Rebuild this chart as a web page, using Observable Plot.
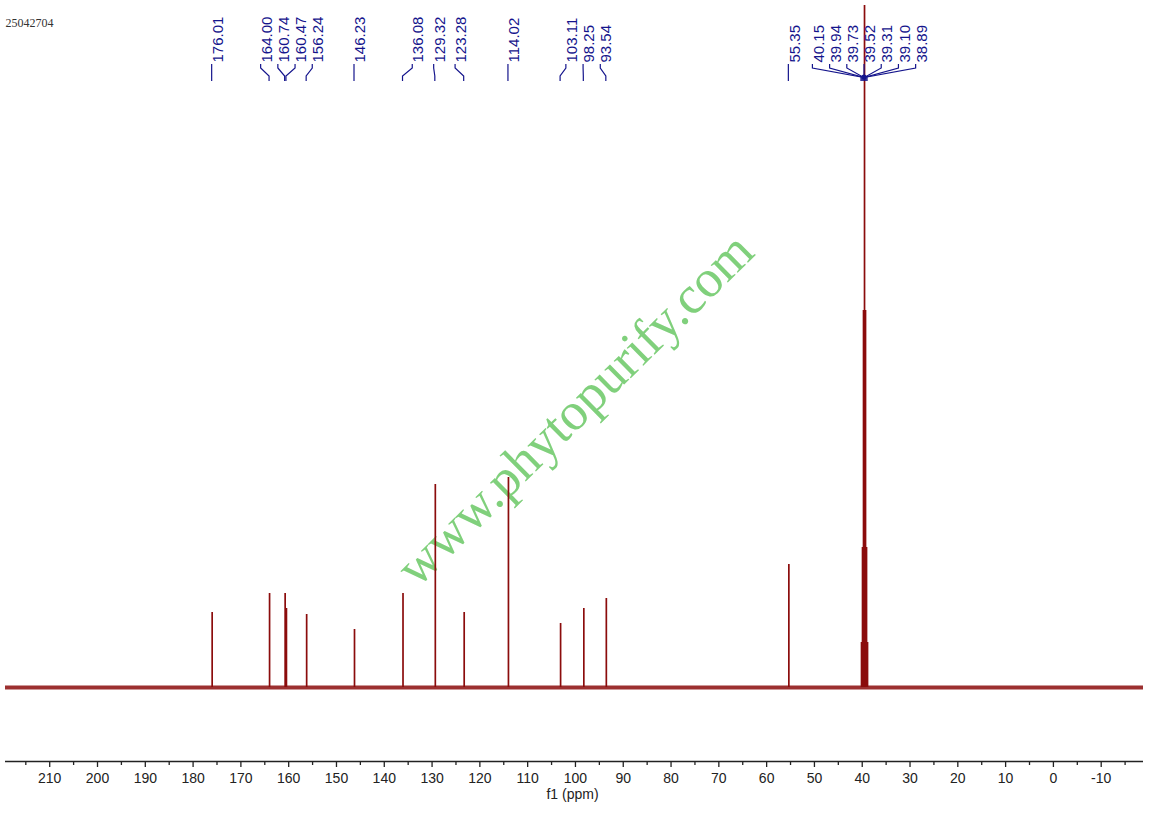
<!DOCTYPE html>
<html>
<head>
<meta charset="utf-8">
<script src="https://cdn.jsdelivr.net/npm/d3@7"></script>
<script src="https://cdn.jsdelivr.net/npm/@observablehq/plot@0.6"></script>
<style>
  body { margin: 0; background: #fff; }
  #chart svg { display: block; }
</style>
</head>
<body>
<div id="chart"></div>
<script>
// ---- data ----
const sampleId = "25042704";
const watermark = "www.phytopurify.com";
const axisTitle = "f1 (ppm)";

const peakPpm    = [176.01, 164.00, 160.74, 160.47, 156.24, 146.23, 136.08, 129.32, 123.28, 114.02, 103.11, 98.25, 93.54, 55.35, 40.15, 39.94, 39.73, 39.52, 39.31, 39.10, 38.89];
const peakHeight = [75, 94, 94, 79, 73, 58, 94, 203, 75, 210, 64, 79, 89, 123, 45, 140, 377, 1000, 377, 140, 45];
const peakLabels = ["176.01", "164.00", "160.74", "160.47", "156.24", "146.23", "136.08", "129.32", "123.28", "114.02", "103.11", "98.25", "93.54", "55.35", "40.15", "39.94", "39.73", "39.52", "39.31", "39.10", "38.89"];

const majorTicks = [210, 200, 190, 180, 170, 160, 150, 140, 130, 120, 110, 100, 90, 80, 70, 60, 50, 40, 30, 20, 10, 0, -10];
const minorTicks = [215, 205, 195, 185, 175, 165, 155, 145, 135, 125, 115, 105, 95, 85, 75, 65, 55, 45, 35, 25, 15, 5, -5, -15];

const xDomain = [219.25, -18.85];
const yDomain = [-74, 682];

const specColor = "#8b0c0c";
const labelColor = "#14148c";

// ---- derived ----
const peaks = peakPpm.map((ppm, i) => ({ppm, h: peakHeight[i], label: peakLabels[i]}));

// spread the peak labels (in ppm units) so that neighbours do not collide
const minSep = 3.6, joinGap = 8;
const clusters = [];
let cur = [peaks[0]];
for (let i = 1; i < peaks.length; i++) {
  if (peaks[i - 1].ppm - peaks[i].ppm < joinGap) cur.push(peaks[i]);
  else { clusters.push(cur); cur = [peaks[i]]; }
}
clusters.push(cur);
const labelData = [];
const clusterDots = [];
for (const c of clusters) {
  const n = c.length;
  const mean = d3.mean(c, d => d.ppm);
  const sep = n > 1 ? Math.max(minSep, 0.7 * (c[0].ppm - c[n - 1].ppm) / (n - 1)) : 0;
  c.forEach((d, k) => labelData.push({...d, lx: mean + sep * ((n - 1) / 2 - k), multi: n >= 5}));
  if (n >= 5) clusterDots.push(mean);
}

const connectors = (index, scales, values, dims) => {
  const x = scales.x;
  const top = dims.marginTop;
  const g = d3.create("svg:g");
  const paths = g.append("g").attr("fill", "none").attr("stroke", labelColor).attr("stroke-width", 1.2);
  for (const d of labelData) {
    const lx = x(d.lx), px = x(d.ppm);
    const yMid = d.multi ? top + 72 : top + 71;
    paths.append("path").attr("d", `M${lx},${top + 59}L${lx},${top + 63}L${px},${yMid}L${px},${top + 76}`);
  }
  for (const m of clusterDots) {
    g.append("circle").attr("cx", x(m)).attr("cy", top + 72).attr("r", 2.6).attr("fill", labelColor);
  }
  return g.node();
};

const chart = Plot.plot({
  width: 1149,
  height: 814,
  marginLeft: 5,
  marginRight: 6,
  marginTop: 5,
  marginBottom: 53,
  x: {domain: xDomain, label: null},
  y: {domain: yDomain, clamp: true, axis: null},
  style: {fontFamily: "'Liberation Sans', Arial, sans-serif", fontSize: "14px", color: "#222", background: "#fff"},
  marks: [
    Plot.text([watermark], {
      frameAnchor: "top-left", dx: 555, dy: 389, rotate: -44.6,
      fontFamily: "'Liberation Serif', 'Times New Roman', serif", fontSize: 53,
      fill: "#80d07c", textAnchor: "middle"
    }),
    Plot.ruleY([0], {stroke: specColor, strokeWidth: 4, strokeOpacity: 0.85}),
    Plot.ruleX(peaks, {x: "ppm", y1: 0, y2: "h", stroke: specColor, strokeWidth: 1.7}),
    Plot.ruleY([yDomain[0]], {stroke: "#222", strokeWidth: 1.3}),
    Plot.axisX(majorTicks, {tickSize: 6, tickPadding: 6, tickFormat: d => String(d), fontSize: 14, label: null, stroke: "#222", strokeWidth: 1.3}),
    Plot.axisX(minorTicks, {tickSize: 4, tickFormat: () => "", label: null, stroke: "#222", strokeWidth: 1.3}),
    Plot.text([axisTitle], {frameAnchor: "bottom", dx: -2, dy: 37, fontSize: 14, fill: "#222"}),
    Plot.text([sampleId], {
      frameAnchor: "top-left", dy: 13, textAnchor: "start",
      fontFamily: "'Liberation Serif', 'Times New Roman', serif", fontSize: 12, fill: "#333"
    }),
    Plot.text(labelData, {
      x: "lx", text: "label", frameAnchor: "top", dy: 57, rotate: -90,
      textAnchor: "start", fill: labelColor, fontSize: 15
    }),
    connectors
  ]
});

document.getElementById("chart").append(chart);
</script>
</body>
</html>
